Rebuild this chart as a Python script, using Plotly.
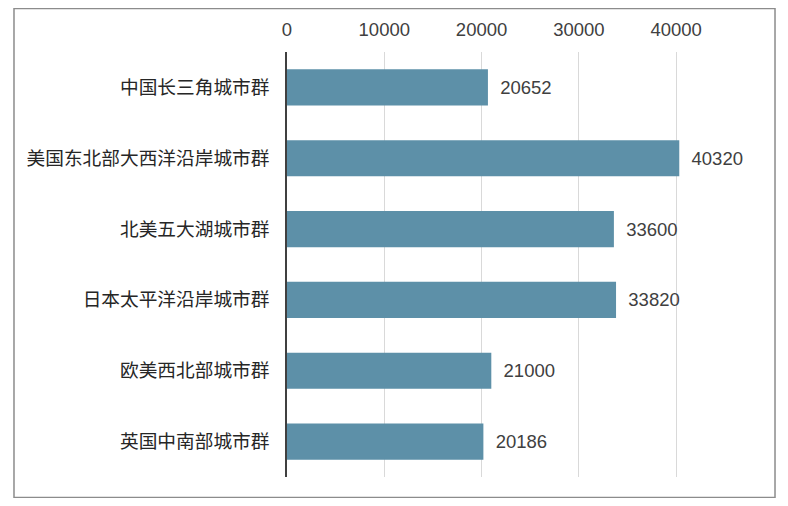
import plotly.graph_objects as go

# Data
cities = ['中国长三角城市群', '美国东北部大西洋沿岸城市群', '北美五大湖城市群',
          '日本太平洋沿岸城市群', '欧美西北部城市群', '英国中南部城市群']
values = [20652, 40320, 33600, 33820, 21000, 20186]
tick_vals = [0, 10000, 20000, 30000, 40000]
tick_text = ['0', '10000', '20000', '30000', '40000']

fig = go.Figure()

fig.add_trace(go.Bar(
    y=cities, x=values, orientation='h',
    marker=dict(color='#5d90a8', line=dict(width=0)),
    width=0.51,
    text=['\u2002' + str(v) for v in values],
    textposition='outside',
    cliponaxis=False,
    textfont=dict(family='Liberation Sans, Arial', size=18.5, color='#404040'),
))

fig.update_layout(
    width=772, height=490,
    margin=dict(l=279, r=26, t=44, b=21, autoexpand=False),
    plot_bgcolor='white', paper_bgcolor='white',
    showlegend=False,
    xaxis=dict(
        side='top', range=[0, 48000], tickvals=tick_vals, ticktext=tick_text,
        showgrid=True, gridcolor='#d9d9d9', gridwidth=1,
        zeroline=False, showline=False, ticks='',
        ticklabelstandoff=11, automargin=False,
        tickfont=dict(family='Liberation Sans, Arial', size=18.5, color='#404040'),
    ),
    yaxis=dict(
        autorange='reversed', showgrid=False, zeroline=False,
        showline=True, linecolor='#404040', linewidth=1.5,
        ticks='', ticklabelstandoff=12, automargin=False,
        tickfont=dict(family='Noto Sans CJK SC', size=18.7, color='#262626'),
    ),
    shapes=[dict(
        type='rect', xref='paper', yref='paper',
        x0=-0.5846, x1=1.045, y0=-0.0482, y1=1.1024,
        line=dict(color='#8c8c8c', width=1.5), fillcolor='rgba(0,0,0,0)',
    )],
)

fig.write_html('out.html')
